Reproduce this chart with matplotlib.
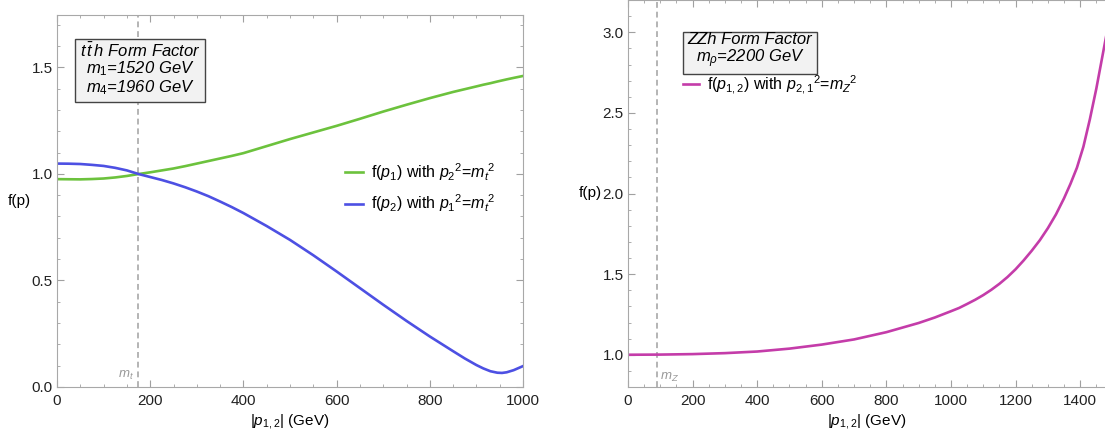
import numpy as np
import matplotlib.pyplot as plt
from matplotlib.ticker import MultipleLocator

plt.rcParams['font.family'] = ['Liberation Sans', 'DejaVu Sans']
plt.rcParams['mathtext.fontset'] = 'custom'
plt.rcParams['mathtext.rm'] = 'Liberation Sans'
plt.rcParams['mathtext.it'] = 'Liberation Sans:italic'
plt.rcParams['mathtext.bf'] = 'Liberation Sans:bold'

# ttbar h form factor (left panel)
p_tt = [0, 25, 50, 75, 100, 125, 150, 175, 200, 225, 250, 275, 300, 325, 350,
        375, 400, 450, 500, 550, 600, 650, 700, 750, 800, 850, 875, 900, 915,
        930, 945, 955, 965, 980, 1000]
f_p1 = [0.975, 0.9745, 0.974, 0.9755, 0.978, 0.983, 0.990, 0.999, 1.007,
        1.016, 1.025, 1.036, 1.048, 1.060, 1.072, 1.084, 1.097, 1.130, 1.163,
        1.194, 1.225, 1.258, 1.292, 1.324, 1.355, 1.384, 1.397, 1.410, 1.418,
        1.425, 1.433, 1.438, 1.443, 1.450, 1.459]
f_p2 = [1.048, 1.0475, 1.046, 1.042, 1.037, 1.028, 1.016, 0.999, 0.985,
        0.971, 0.955, 0.937, 0.917, 0.895, 0.870, 0.844, 0.816, 0.755, 0.690,
        0.618, 0.542, 0.464, 0.386, 0.310, 0.237, 0.168, 0.134, 0.103, 0.087,
        0.074, 0.067, 0.066, 0.069, 0.079, 0.098]

# ZZh form factor (right panel)
p_zz = [0, 100, 200, 300, 400, 500, 600, 700, 800, 900, 950, 1000, 1025,
        1050, 1075, 1100, 1125, 1150, 1175, 1200, 1225, 1250, 1275, 1300,
        1325, 1350, 1370, 1390, 1410, 1430, 1450, 1465, 1480]
f_zz = [1.0, 1.001, 1.004, 1.010, 1.020, 1.038, 1.063, 1.095, 1.140, 1.197,
        1.231, 1.270, 1.290, 1.315, 1.341, 1.370, 1.403, 1.440, 1.482, 1.530,
        1.585, 1.645, 1.710, 1.785, 1.870, 1.970, 2.060, 2.160, 2.290, 2.460,
        2.650, 2.810, 2.970]

m_t = 173
m_Z = 91

green = '#6cc23d'
blue = '#4d50e3'
magenta = '#c43ca9'
gray = '#b4b4b4'

fig = plt.figure(figsize=(11.05, 4.32), dpi=100)
ax1 = fig.add_axes([57/1105, 45/432, 466/1105, 372/432])
ax2 = fig.add_axes([628/1105, 45/432, 478/1105, 387/432])


def style(ax):
    for s in ax.spines.values():
        s.set_color('#a8a8a8')
    ax.tick_params(which='both', direction='in', top=True, right=True,
                   color='#a0a0a0', labelsize=11, labelcolor='#222222')
    ax.tick_params(which='major', length=5)
    ax.tick_params(which='minor', length=2.5)
    ax.tick_params(axis='x', pad=5)
    ax.tick_params(axis='y', pad=3)
    ax.xaxis.set_minor_locator(MultipleLocator(50))
    ax.yaxis.set_minor_locator(MultipleLocator(0.1))
    ax.set_xlabel('|$p_{1,2}$| (GeV)', fontsize=11, labelpad=3)


box = dict(boxstyle='square,pad=0.28', fc='#f2f2f2', ec='#444444', lw=1)

# left panel
style(ax1)
ax1.plot(p_tt, f_p1, color=green, lw=1.9,
         label='f($p_1$) with $p_2{}^2$=$m_t{}^2$')
ax1.plot(p_tt, f_p2, color=blue, lw=1.9,
         label='f($p_2$) with $p_1{}^2$=$m_t{}^2$')
ax1.axvline(m_t, color=gray, lw=1.4, dashes=(3, 2), zorder=0)
ax1.set_xlim(0, 1000)
ax1.set_ylim(0, 1.745)
ax1.xaxis.set_major_locator(MultipleLocator(200))
ax1.yaxis.set_major_locator(MultipleLocator(0.5))
ax1.yaxis.set_major_formatter('{x:.1f}')
ax1.text(m_t - 7, 0.055, '$m_t$', color='#999999', fontsize=9.5,
         ha='right', va='center')
ax1.text(178, 1.49, '$t\\,\\bar{t}\\,h$ Form Factor\n$m_1$=1520 GeV\n$m_4$=1960 GeV',
         fontsize=12, style='italic', ha='center', va='center',
         linespacing=1.0, bbox=box)
ax1.legend(loc='center left', bbox_to_anchor=(0.618, 0.536), frameon=False,
           fontsize=11.5, handlelength=1.1, handletextpad=0.5,
           labelspacing=0.6, borderpad=0, borderaxespad=0)
fig.text(8/1105, 1 - 201/432, 'f(p)', fontsize=11, ha='left', va='center')

# right panel
style(ax2)
ax2.spines['right'].set_visible(False)
ax2.tick_params(which='both', right=False)
ax2.plot(p_zz, f_zz, color=magenta, lw=1.9,
         label='f($p_{1,2}$) with $p_{2,1}{}^2$=$m_Z{}^2$')
ax2.axvline(m_Z, color=gray, lw=1.4, dashes=(3, 2), zorder=0)
ax2.set_xlim(0, 1480)
ax2.set_ylim(0.8, 3.2)
ax2.xaxis.set_major_locator(MultipleLocator(200))
ax2.yaxis.set_major_locator(MultipleLocator(0.5))
ax2.yaxis.set_major_formatter('{x:.1f}')
ax2.text(m_Z + 8, 0.86, '$m_Z$', color='#999999', fontsize=9.5,
         ha='left', va='center')
ax2.text(378, 2.885, 'ZZh Form Factor\n$m_\\rho$=2200 GeV',
         fontsize=12, style='italic', ha='center', va='center',
         linespacing=1.0, bbox=box)
ax2.legend(loc='center left', bbox_to_anchor=(0.115, 0.782), frameon=False,
           fontsize=11.5, handlelength=1.0, handletextpad=0.5,
           borderpad=0, borderaxespad=0)
fig.text(579/1105, 1 - 193/432, 'f(p)', fontsize=11, ha='left', va='center')

fig.savefig('out.png', dpi=100)
